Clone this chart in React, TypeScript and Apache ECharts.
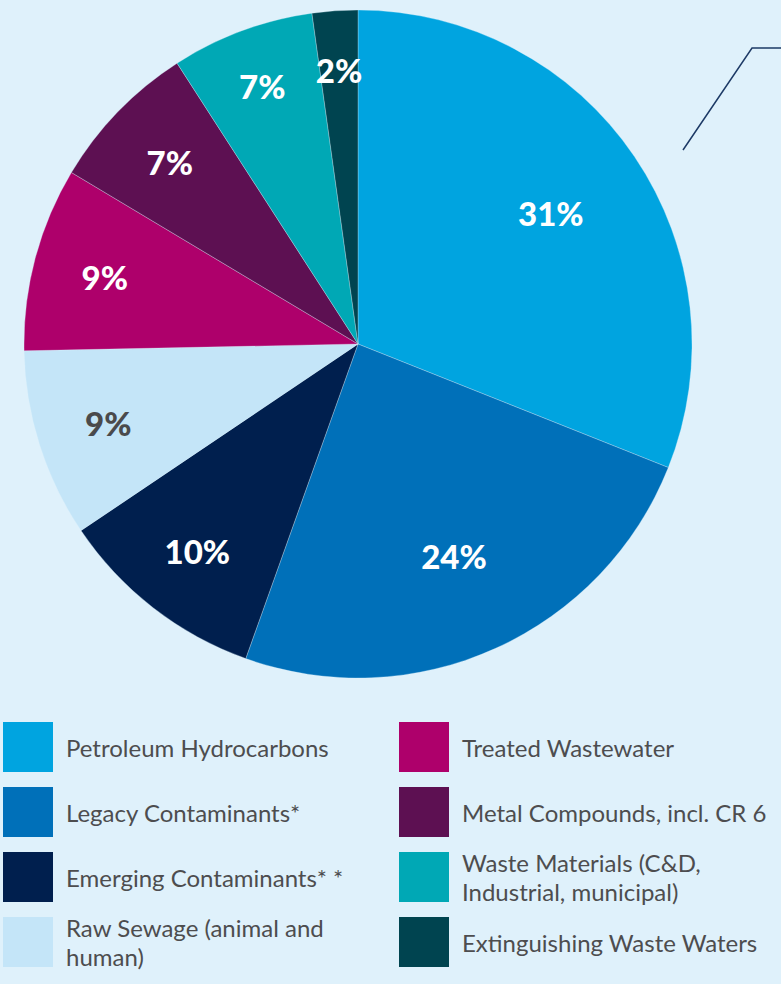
import React, { useEffect, useRef } from "react";
import * as echarts from "echarts";

const categories = [
  "Petroleum Hydrocarbons",
  "Legacy Contaminants*",
  "Emerging Contaminants**",
  "Raw Sewage (animal and human)",
  "Treated Wastewater",
  "Metal Compounds, incl. CR 6",
  "Waste Materials (C&D, Industrial, municipal)",
  "Extinguishing Waste Waters",
];
const shares = [31, 24.4, 10.1, 9.1, 8.9, 7.3, 6.9, 2.2];
const shownPercents = ["31%", "24%", "10%", "9%", "9%", "7%", "7%", "2%"];
const colors = ["#00a4e0", "#0070b9", "#001f4e", "#c4e5f8", "#ae006b", "#5d1052", "#00a8b5", "#004450"];
const labelColors = ["#ffffff", "#ffffff", "#ffffff", "#4a4a4c", "#ffffff", "#ffffff", "#ffffff", "#ffffff"];
const legendText: Record<string, string> = {
  "Raw Sewage (animal and human)": "Raw Sewage (animal and\nhuman)",
  "Waste Materials (C&D, Industrial, municipal)": "Waste Materials (C&D,\nIndustrial, municipal)",
  "Legacy Contaminants*": "Legacy Contaminants*",
  "Emerging Contaminants**": "Emerging Contaminants* *",
};
const bigGroup = [0, 1];
const outerGroup = [6, 7];

export default function App() {
  const ref = useRef<HTMLDivElement>(null);
  useEffect(() => {
    if (!ref.current) return;
    const chart = echarts.init(ref.current, undefined, { renderer: "svg" });
    const center = [358, 344];
    const mainData = categories.map((name, i) => ({
      name,
      value: shares[i],
      itemStyle: { color: colors[i] },
    }));
    const labelData = (members: (i: number) => boolean) =>
      categories.map((name, i) => ({
        name,
        value: shares[i],
        label: { show: members(i), color: labelColors[i], formatter: shownPercents[i] },
      }));
    const labelSeries = (members: (i: number) => boolean, radius: number[]) => ({
      type: "pie",
      center,
      radius,
      startAngle: 90,
      clockwise: true,
      silent: true,
      legendHoverLink: false,
      itemStyle: { color: "rgba(0,0,0,0)", borderWidth: 0 },
      label: {
        position: "inside",
        fontFamily: "Lato",
        fontWeight: 900,
        fontSize: 33,
      },
      labelLine: { show: false },
      emphasis: { disabled: true },
      data: labelData(members),
    });
    const lineH = 29;
    const legendFor = (name: string, idx: number) => {
      const col = idx < 4 ? 0 : 1;
      const row = idx % 4;
      const swatchTop = 722 + row * 65;
      const twoLine = (legendText[name] ?? name).includes("\n");
      return {
        orient: "vertical",
        left: col === 0 ? 3 : 399,
        top: twoLine ? swatchTop - (2 * lineH - 50) / 2 : swatchTop,
        padding: 0,
        itemWidth: 50,
        itemHeight: 50,
        icon: "rect",
        selectedMode: false,
        itemStyle: { borderWidth: 0 },
        formatter: (n: string) => legendText[n] ?? n,
        textStyle: {
          fontFamily: "Lato",
          fontSize: 24,
          color: "#4d4d4f",
          lineHeight: lineH,
          padding: [0, 0, 0, 8],
        },
        data: [name],
      };
    };
    chart.setOption({
      animation: false,
      backgroundColor: "#dff1fb",
      legend: categories.map(legendFor),
      graphic: [
        {
          type: "polyline",
          shape: { points: [[683, 150], [752, 48], [781, 48]] },
          style: { stroke: "#1d3a66", lineWidth: 1.5, fill: null },
        },
      ],
      series: [
        {
          type: "pie",
          center,
          radius: [0, 334],
          startAngle: 90,
          clockwise: true,
          label: { show: false },
          labelLine: { show: false },
          itemStyle: { borderColor: "rgba(223,241,251,0.5)", borderWidth: 0.6 },
          emphasis: { disabled: true },
          data: mainData,
        },
        labelSeries((i) => bigGroup.includes(i), [126, 334]),
        labelSeries((i) => !bigGroup.includes(i) && !outerGroup.includes(i), [184, 334]),
        labelSeries((i) => outerGroup.includes(i), [210, 334]),
      ],
    });
    return () => chart.dispose();
  }, []);
  return (
    <div
      ref={ref}
      style={{ position: "fixed", left: 0, top: 0, width: 781, height: 984 }}
    />
  );
}
